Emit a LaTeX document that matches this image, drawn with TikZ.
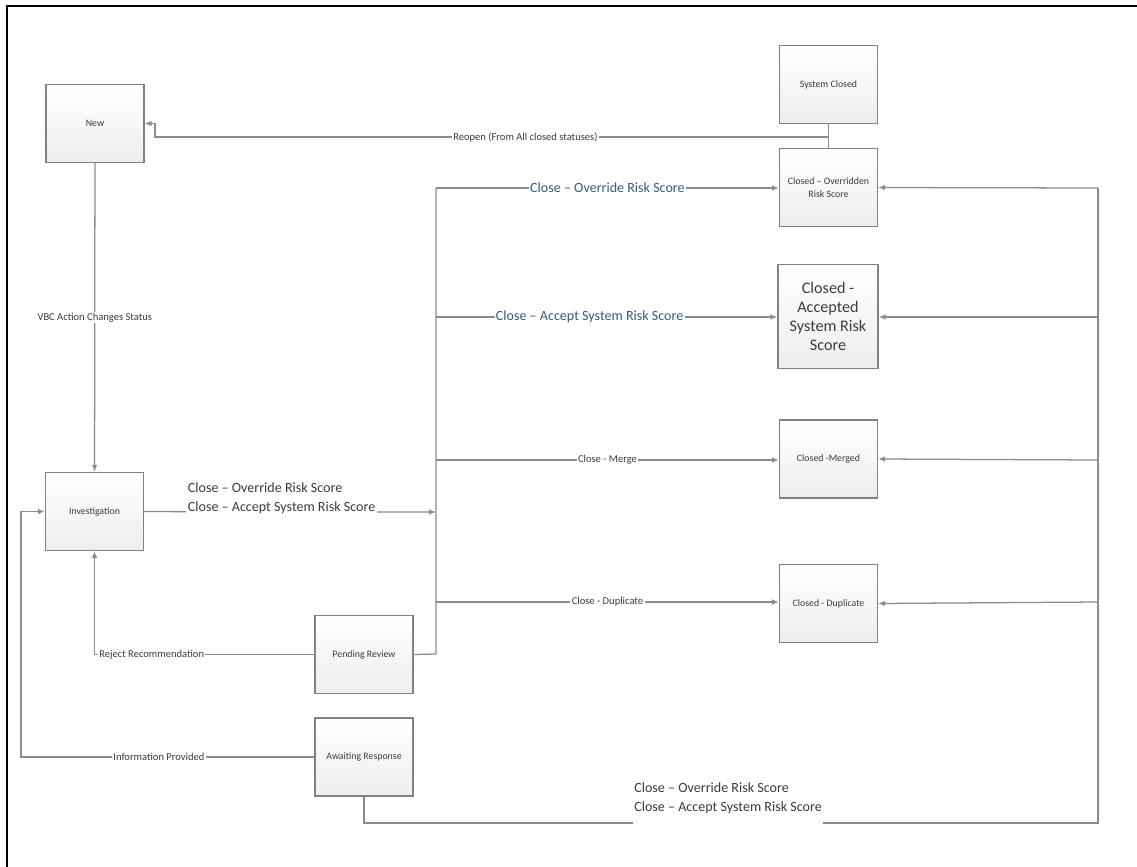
\documentclass[tikz,border=0pt]{standalone}
\usepackage{fontspec}
\setmainfont{Carlito}
\usepackage{tikz}
\usetikzlibrary{positioning,arrows.meta,calc}
\definecolor{wire}{RGB}{140,140,140}
\definecolor{rim}{RGB}{130,130,130}
\definecolor{ink}{RGB}{60,60,60}
\definecolor{steel}{RGB}{58,90,128}

\begin{document}
\begin{tikzpicture}[x=0.025cm,y=-0.025cm,>={Latex[length=5pt,width=4pt]},
    box/.style={draw=rim,line width=0.8pt,top color=white,bottom color=black!7,align=center,
      text=ink,font=\fontsize{7}{9}\selectfont,minimum width=2.45cm,minimum height=1.95cm,inner sep=2pt},
    link/.style={draw=wire,line width=0.9pt},
    tag/.style={fill=white,text=ink,font=\fontsize{7.5}{9}\selectfont,inner sep=1pt},
    bluetag/.style={fill=white,text=steel,font=\fontsize{10}{13.5}\selectfont,inner sep=1pt},
    pair/.style={fill=white,text=ink,align=left,font=\fontsize{10}{13.5}\selectfont,inner xsep=1pt}]
    \useasboundingbox (0,0) rectangle (1137,867);
    \draw[line width=1.5pt] (7,867) -- (7,6) -- (1137,6);
    % states
    \node[box] (new) at (95,123.5) {New};
    \node[box] (inv) at (94.5,511.5) {Investigation};
    \node[box] (pend) at (364,654.5) {Pending Review};
    \node[box] (await) at (364,757) {Awaiting Response};
    \node[box] (sys) at (828.5,84.5) {System Closed};
    \node[box] (ovr) at (828.5,187.5) {Closed -- Overridden\\Risk Score};
    \node[box,font=\fontsize{11.5}{13.5}\selectfont,minimum width=2.5cm,minimum height=2.6cm] (acc) at (828,316.5) {Closed -\\Accepted\\System Risk\\Score};
    \node[box] (mrg) at (828.5,459) {Closed -Merged};
    \node[box] (dup) at (828.5,603.5) {Closed - Duplicate};
    % branch and bus points
    \coordinate (br) at (436,512);
    \coordinate (b1) at (436,188);
    \coordinate (b2) at (436,317);
    \coordinate (b3) at (436,460);
    \coordinate (b4) at (436,602);
    \coordinate (b5) at (436,654);
    \coordinate (r1) at (1098,188);
    \coordinate (r2) at (1098,317);
    \coordinate (r3) at (1098,460);
    \coordinate (r4) at (1098,602);
    \coordinate (r5) at (1098,823);
    \coordinate (ro) at (828.5,137);
    % transitions
    \draw[link,->] (new) -- node[tag] {VBC Action Changes Status} (inv);
    \draw[link] (sys) -- (ovr);
    \draw[link,->] (ro) -- node[tag,pos=0.45] {Reopen (From All closed statuses)} (155,137) |- (new.east);
    \draw[link,->] (inv) -- node[pair,anchor=south,yshift=-5pt,xshift=-6pt] {Close -- Override Risk Score\\Close -- Accept System Risk Score} (br);
    \draw[link] (pend.east) -- (b5) -- (b1);
    \draw[link,->] (b1) -- node[bluetag] {Close -- Override Risk Score} (b1 -| ovr.west);
    \draw[link,->] (b2) -- node[bluetag,pos=0.45] {Close -- Accept System Risk Score} (b2 -| acc.west);
    \draw[link,->] (b3) -- node[tag] {Close - Merge} (b3 -| mrg.west);
    \draw[link,->] (b4) -- node[tag] {Close - Duplicate} (b4 -| dup.west);
    \draw[link,->] (pend.west) -| node[tag,pos=0.37] {Reject Recommendation} (inv.south);
    \draw[link,->] (await.west) -- node[tag,pos=0.53] {Information Provided} (21,757) |- (inv.west);
    \draw[link] (await.south) |- node[pair,pos=0.748,anchor=south,inner ysep=9pt,yshift=-3pt] {Close -- Override Risk Score\\Close -- Accept System Risk Score} (r5) -- (r1);
    \draw[link,->] (r1) -- (ovr.east);
    \draw[link,->] (r2) -- (r2 -| acc.east);
    \draw[link,->] (r3) -- (mrg.east);
    \draw[link,->] (r4) -- (dup.east);
\end{tikzpicture}
\end{document}
